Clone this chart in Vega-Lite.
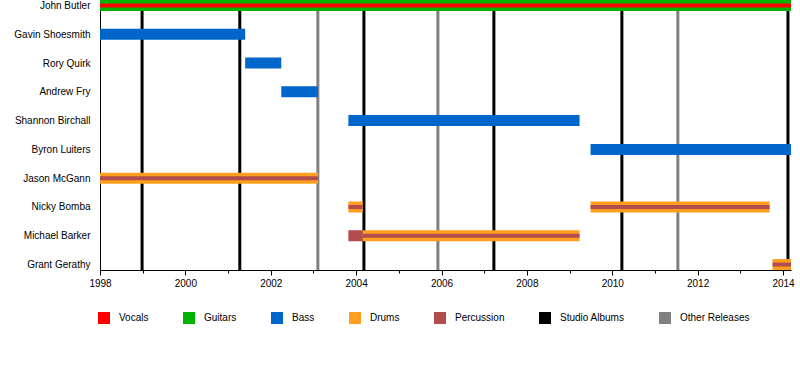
{
  "$schema": "https://vega.github.io/schema/vega-lite/v6.json",
  "width": 691,
  "height": 270,
  "autosize": "none",
  "padding": {"left": 100, "top": 0, "right": 9, "bottom": 100},
  "background": "white",
  "config": {
    "view": {"stroke": null},
    "font": "Liberation Sans",
    "axis": {"labelFont": "Liberation Sans", "labelFontSize": 10, "labelColor": "#000", "domainColor": "#000", "tickColor": "#000", "grid": false, "title": null},
    "legend": {"labelFont": "Liberation Sans", "labelFontSize": 10, "labelColor": "#000"}
  },
  "datasets": {
    "full": [
      {"member": "John Butler", "type": "Guitars", "start": "1998-01-01", "end": "2014-03-10"},
      {"member": "Gavin Shoesmith", "type": "Bass", "start": "1998-01-01", "end": "2001-05-27"},
      {"member": "Rory Quirk", "type": "Bass", "start": "2001-05-27", "end": "2002-04-01"},
      {"member": "Andrew Fry", "type": "Bass", "start": "2002-04-01", "end": "2003-02-08"},
      {"member": "Shannon Birchall", "type": "Bass", "start": "2003-10-27", "end": "2009-03-27"},
      {"member": "Byron Luiters", "type": "Bass", "start": "2009-06-29", "end": "2014-03-10"},
      {"member": "Jason McGann", "type": "Drums", "start": "1998-01-01", "end": "2003-02-08"},
      {"member": "Nicky Bomba", "type": "Drums", "start": "2003-10-27", "end": "2004-02-27"},
      {"member": "Nicky Bomba", "type": "Drums", "start": "2009-06-29", "end": "2013-09-08"},
      {"member": "Michael Barker", "type": "Percussion", "start": "2003-10-27", "end": "2004-02-27"},
      {"member": "Michael Barker", "type": "Drums", "start": "2004-02-27", "end": "2009-03-27"},
      {"member": "Grant Gerathy", "type": "Drums", "start": "2013-10-03", "end": "2014-03-10"}
    ],
    "thin": [
      {"member": "John Butler", "type": "Vocals", "start": "1998-01-01", "end": "2014-03-10"},
      {"member": "Jason McGann", "type": "Percussion", "start": "1998-01-01", "end": "2003-02-08"},
      {"member": "Nicky Bomba", "type": "Percussion", "start": "2003-10-27", "end": "2004-02-27"},
      {"member": "Nicky Bomba", "type": "Percussion", "start": "2009-06-29", "end": "2013-09-08"},
      {"member": "Michael Barker", "type": "Percussion", "start": "2004-02-27", "end": "2009-03-27"},
      {"member": "Grant Gerathy", "type": "Percussion", "start": "2013-10-03", "end": "2014-03-10"}
    ],
    "albums": [
      {"date": "1998-12-27", "type": "Studio Albums"},
      {"date": "2001-04-11", "type": "Studio Albums"},
      {"date": "2004-03-08", "type": "Studio Albums"},
      {"date": "2007-03-25", "type": "Studio Albums"},
      {"date": "2010-03-24", "type": "Studio Albums"},
      {"date": "2014-02-12", "type": "Studio Albums"},
      {"date": "2003-02-08", "type": "Other Releases"},
      {"date": "2005-12-01", "type": "Other Releases"},
      {"date": "2011-07-16", "type": "Other Releases"}
    ]
  },
  "layer": [
    {
      "data": {"name": "albums"},
      "mark": {"type": "rule", "strokeWidth": 3},
      "encoding": {
        "x": {
          "field": "date",
          "type": "temporal",
          "scale": {"domain": [{"year": 1998, "month": 1, "date": 1}, {"year": 2014, "month": 3, "date": 10}], "nice": false},
          "axis": {
            "values": [{"year": 1998}, {"year": 1999}, {"year": 2000}, {"year": 2001}, {"year": 2002}, {"year": 2003}, {"year": 2004}, {"year": 2005}, {"year": 2006}, {"year": 2007}, {"year": 2008}, {"year": 2009}, {"year": 2010}, {"year": 2011}, {"year": 2012}, {"year": 2013}, {"year": 2014}],
            "labelExpr": "year(datum.value) % 2 == 0 ? timeFormat(datum.value, '%Y') : ''",
            "tickSize": {"condition": {"test": "year(datum.value) % 2 == 0", "value": 5}, "value": 3},
            "labelFlush": false,
            "labelOverlap": false,
            "labelPadding": 3,
            "title": null
          }
        },
        "color": {
          "field": "type",
          "type": "nominal",
          "scale": {
            "domain": ["Vocals", "Guitars", "Bass", "Drums", "Percussion", "Studio Albums", "Other Releases"],
            "range": ["#ff0000", "#00b300", "#0066cc", "#ff9e1f", "#b34d4d", "#000000", "#808080"]
          },
          "legend": {
            "orient": "none",
            "legendX": -2,
            "legendY": 312,
            "direction": "horizontal",
            "title": null,
            "symbolType": "square",
            "symbolSize": 144,
            "symbolStrokeWidth": 0,
            "labelOffset": 9,
            "columnPadding": 34,
            "padding": 0,
            "encode": {
              "symbols": {"update": {"fill": {"scale": "color", "field": "value"}, "stroke": {"value": "transparent"}, "shape": {"value": "square"}, "opacity": {"value": 1}}}
            }
          }
        }
      }
    },
    {
      "data": {"name": "full"},
      "mark": {"type": "bar", "size": 11},
      "encoding": {
        "y": {
          "field": "member",
          "type": "nominal",
          "scale": {"type": "point", "padding": 0.19, "domain": ["John Butler", "Gavin Shoesmith", "Rory Quirk", "Andrew Fry", "Shannon Birchall", "Byron Luiters", "Jason McGann", "Nicky Bomba", "Michael Barker", "Grant Gerathy"]},
          "axis": {"ticks": false, "labelPadding": 10, "title": null, "domain": true}
        },
        "x": {"field": "start", "type": "temporal"},
        "x2": {"field": "end"},
        "color": {"field": "type", "type": "nominal"}
      }
    },
    {
      "data": {"name": "thin"},
      "mark": {"type": "bar", "size": 4},
      "encoding": {
        "y": {"field": "member", "type": "nominal"},
        "x": {"field": "start", "type": "temporal"},
        "x2": {"field": "end"},
        "color": {"field": "type", "type": "nominal"}
      }
    }
  ]
}
